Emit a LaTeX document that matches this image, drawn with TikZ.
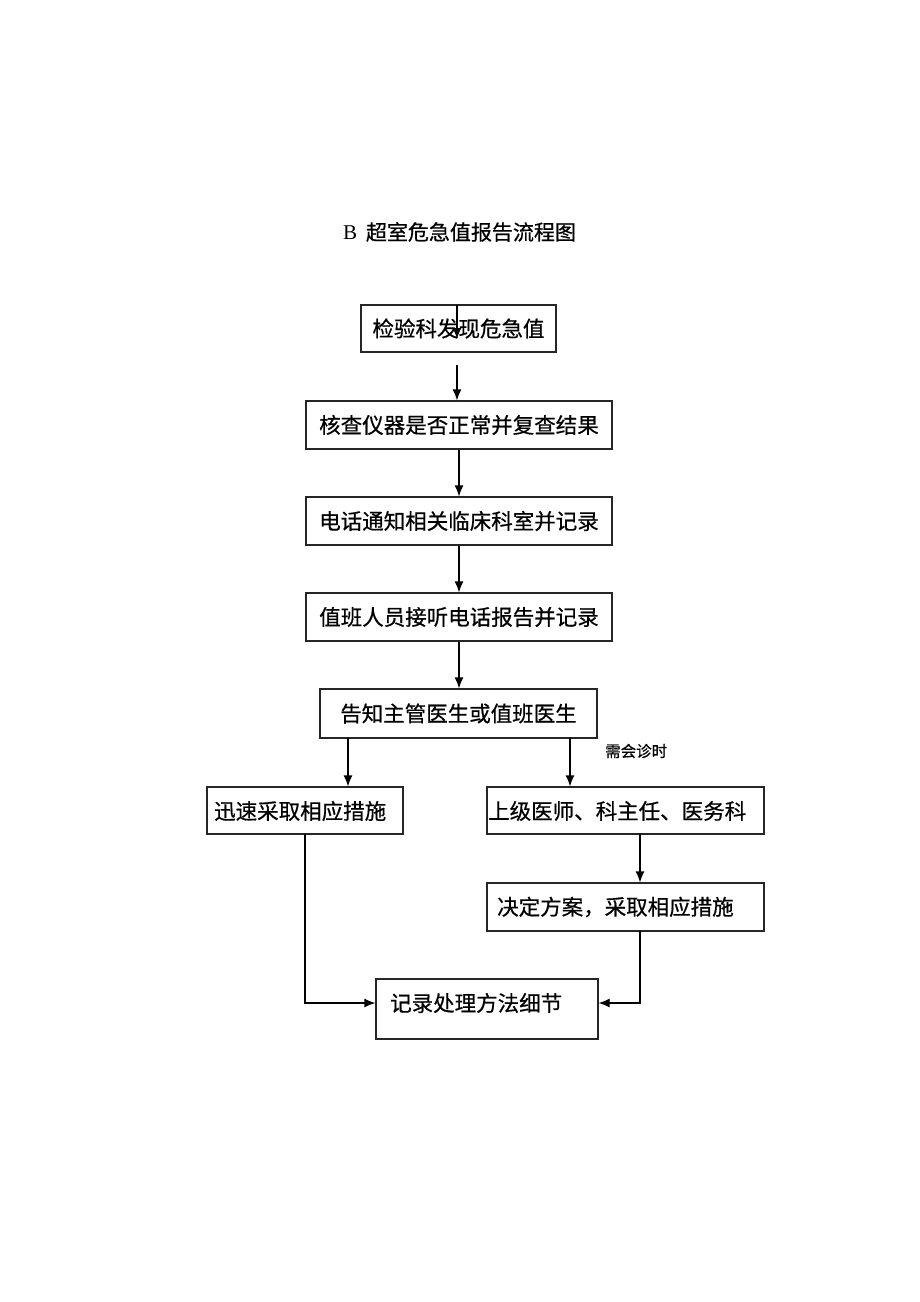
\documentclass[tikz,border=0pt]{standalone}
\usepackage{fontspec}
\setmainfont{Liberation Serif}
\newfontfamily\cjk[FakeBold=0.6]{Noto Sans CJK SC}
\usetikzlibrary{arrows.meta}
\begin{document}
\begin{tikzpicture}[x=1pt,y=-1pt,
  box/.style={draw=black!85,line width=1.2pt,rectangle,inner sep=0pt,font=\cjk\fontsize{21.5}{24}\selectfont},
  txt/.style={inner sep=0pt,font=\cjk\fontsize{21.5}{24}\selectfont},
  arr/.style={line width=1.2pt,-{Latex[length=11pt,width=9pt]}},
  lbl/.style={inner sep=0pt,font=\cjk\fontsize{15.5}{18}\selectfont}]
\fill[white] (0,0) rectangle (920,1302);
\useasboundingbox (0,0) rectangle (920,1302);
% title
\node[inner sep=0pt,anchor=west] (title) at (343,232) {\fontsize{21}{24}\selectfont B\ \,{\cjk 超室危急值报告流程图}};
% boxes
\node[box,minimum width=195pt,minimum height=47pt] (n1) at (458.5,328.5) {检验科发现危急值};
\node[box,minimum width=306pt,minimum height=48pt] (n2) at (459,425) {核查仪器是否正常并复查结果};
\node[box,minimum width=306pt,minimum height=48pt] (n3) at (459,521) {电话通知相关临床科室并记录};
\node[box,minimum width=306pt,minimum height=48pt] (n4) at (459,617) {值班人员接听电话报告并记录};
\node[box,minimum width=277pt,minimum height=49pt] (n5) at (458.5,713.5) {告知主管医生或值班医生};
\node[box,minimum width=196pt,minimum height=47pt] (n6a) at (305,810.5) {};
\node[txt,anchor=west] (t6a) at (214,811) {迅速采取相应措施};
\node[box,minimum width=277pt,minimum height=47pt] (n6b) at (625.5,810.5) {};
\node[txt,anchor=west] (t6b) at (488,811) {上级医师、科主任、医务科};
\node[box,minimum width=277pt,minimum height=48pt] (n7) at (625.5,907) {};
\node[txt,anchor=west] (t7) at (497,907) {决定方案，采取相应措施};
\node[box,minimum width=222pt,minimum height=60pt] (n8) at (487,1009) {};
\node[txt,anchor=west] (t8) at (390,1003) {记录处理方法细节};
\node[lbl,anchor=west] (l1) at (605,751) {需会诊时};
% stray arrow inside first box
\coordinate (s1) at (457,305);
\coordinate (s2) at (457,339);
\draw[arr] (s1) -- (s2);
% connectors
\coordinate (a1) at (457,365);
\draw[arr] (a1) -- (n2.north -| a1);
\draw[arr] (n2.south) -- (n3.north);
\draw[arr] (n3.south) -- (n4.north);
\draw[arr] (n4.south) -- (n5.north -| n4.south);
\coordinate (b1) at (348,738);
\coordinate (b2) at (570,738);
\draw[arr] (b1) -- (n6a.north -| b1);
\draw[arr] (b2) -- (n6b.north -| b2);
\coordinate (c1) at (640,834);
\draw[arr] (c1) -- (n7.north -| c1);
\coordinate (d1) at (305,834);
\coordinate (d2) at (305,1003);
\draw[arr] (d1) -- (d2) -- (n8.west |- d2);
\coordinate (e1) at (640,931);
\coordinate (e2) at (640,1003);
\draw[arr] (e1) -- (e2) -- (n8.east |- e2);
\end{tikzpicture}
\end{document}
